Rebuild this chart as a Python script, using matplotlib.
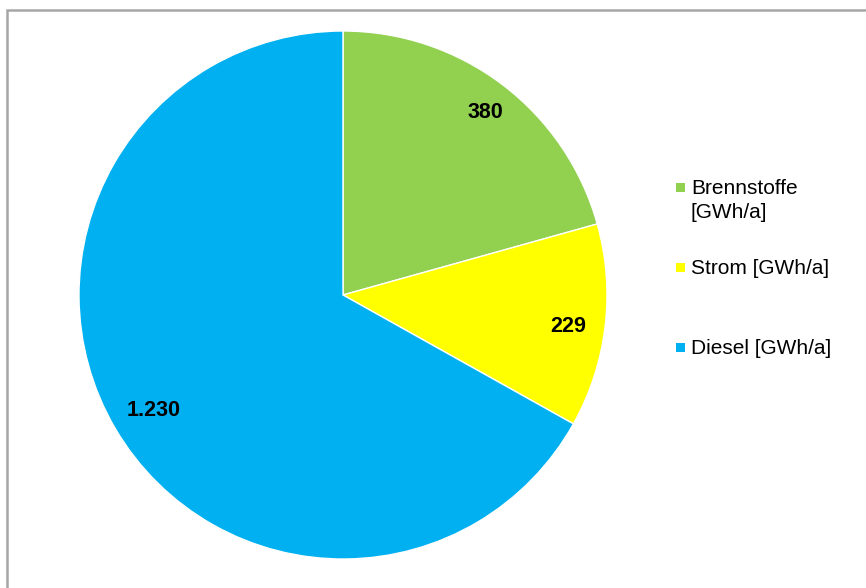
import matplotlib
matplotlib.use("Agg")
import matplotlib.pyplot as plt
from matplotlib.patches import Rectangle
import numpy as np

plt.rcParams["font.family"] = ["Liberation Sans", "DejaVu Sans"]

# data
labels = ["Brennstoffe\n[GWh/a]", "Strom [GWh/a]", "Diesel [GWh/a]"]
values = [380, 229, 1230]
colors = ["#92D050", "#FFFF00", "#00B0F0"]

W, H = 866, 588
fig = plt.figure(figsize=(W / 100, H / 100), dpi=100)

# gray frame (cut off at right/bottom like the screenshot)
fig.patches.append(Rectangle((7 / W, -0.1), 1.2, (H - 10) / H + 0.1,
                             transform=fig.transFigure, fill=False,
                             edgecolor="#A6A6A6", linewidth=1.8))

cx, cy, r = 343, 295, 264
ax = fig.add_axes([(cx - r) / W, (H - cy - r) / H, 2 * r / W, 2 * r / H])


def fmt_de(v):
    return f"{v:,}".replace(",", ".")


wedges, texts = ax.pie(values, colors=colors, startangle=90, counterclock=False,
                       wedgeprops=dict(edgecolor="white", linewidth=1))
ax.set_aspect("equal")
ax.set_xlim(-1, 1)
ax.set_ylim(-1, 1)
ax.axis("off")

dists = [0.89, 0.86, 0.83]
for w, v, d in zip(wedges, values, dists):
    ang = np.deg2rad((w.theta1 + w.theta2) / 2)
    ax.text(d * np.cos(ang), d * np.sin(ang) - 0.019, fmt_de(v), ha="center",
            va="center", fontsize=15.5, fontweight="bold", color="black")

# legend drawn by hand
ys = [187, 267, 347]
for lab, col, y in zip(labels, colors, ys):
    fig.patches.append(Rectangle((676 / W, 1 - (y + 4.5) / H), 9 / W, 9 / H,
                                 transform=fig.transFigure, facecolor=col,
                                 edgecolor="none"))
    fig.text(691 / W, 1 - (y - 8) / H, lab, ha="left", va="top",
             fontsize=15, color="black", linespacing=1.32)

fig.savefig("out.png", dpi=100, facecolor="white")
